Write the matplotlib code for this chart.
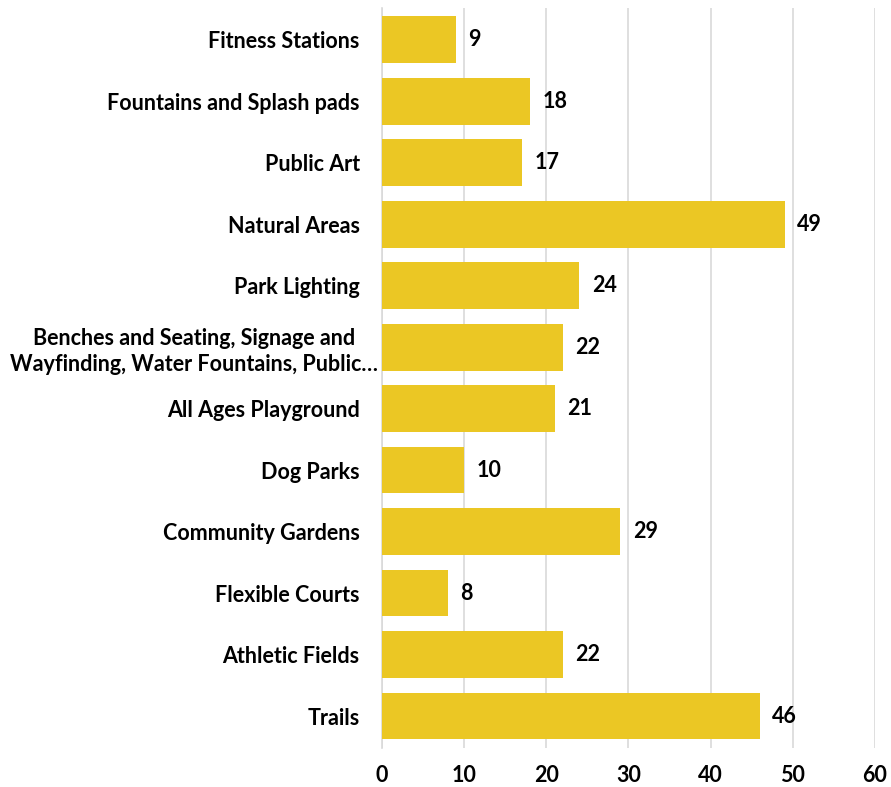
import matplotlib
matplotlib.use("Agg")
import matplotlib.pyplot as plt
from matplotlib.transforms import ScaledTranslation

# categories top to bottom
categories = [
    "Fitness Stations",
    "Fountains and Splash pads",
    "Public Art",
    "Natural Areas",
    "Park Lighting",
    "Benches and Seating, Signage and\nWayfinding, Water Fountains, Public\u2026",
    "All Ages Playground",
    "Dog Parks",
    "Community Gardens",
    "Flexible Courts",
    "Athletic Fields",
    "Trails",
]
counts = [9, 18, 17, 49, 24, 22, 21, 10, 29, 8, 22, 46]
x_ticks = [0, 10, 20, 30, 40, 50, 60]

BAR_COLOR = "#EBC724"
GRID_COLOR = "#D9D9D9"
FS = 15.5

plt.rcParams["font.family"] = ["Lato", "DejaVu Sans"]
plt.rcParams["font.weight"] = "bold"

fig = plt.figure(figsize=(8.91, 7.87), dpi=100)
ax = fig.add_axes([0.4287, 0.0496, 0.5533, 0.9404])

ypos = list(range(len(categories)))
ax.barh(ypos, counts, height=0.76, color=BAR_COLOR, zorder=3)

# value labels just right of each bar
for y, v in zip(ypos, counts):
    ax.annotate(str(v), xy=(v, y), xytext=(9, 0), textcoords="offset points",
                va="center", ha="left", fontsize=FS, fontweight="bold",
                color="black")

ax.set_xlim(0, 60)
ax.set_ylim(len(categories) - 0.48, -0.52)
ax.set_xticks(x_ticks)
ax.set_xticklabels([str(t) for t in x_ticks], fontsize=FS, fontweight="bold")
ax.set_yticks(ypos)
ax.set_yticklabels(categories, fontsize=FS, fontweight="bold", ha="right",
                   multialignment="center", linespacing=1.3)
ax.tick_params(axis="y", length=0, pad=16)
ax.tick_params(axis="x", length=0, pad=12)

# the wrapped label sits a bit further right, like the original
long_lbl = ax.get_yticklabels()[5]
long_lbl.set_transform(long_lbl.get_transform() +
                       ScaledTranslation(18 / 100, 0, fig.dpi_scale_trans))

ax.grid(axis="x", color=GRID_COLOR, linewidth=1.2, zorder=0)
for s in ["top", "right", "bottom"]:
    ax.spines[s].set_visible(False)
ax.spines["left"].set_color(GRID_COLOR)
ax.spines["left"].set_linewidth(1.2)

fig.savefig("out.png", dpi=100)
